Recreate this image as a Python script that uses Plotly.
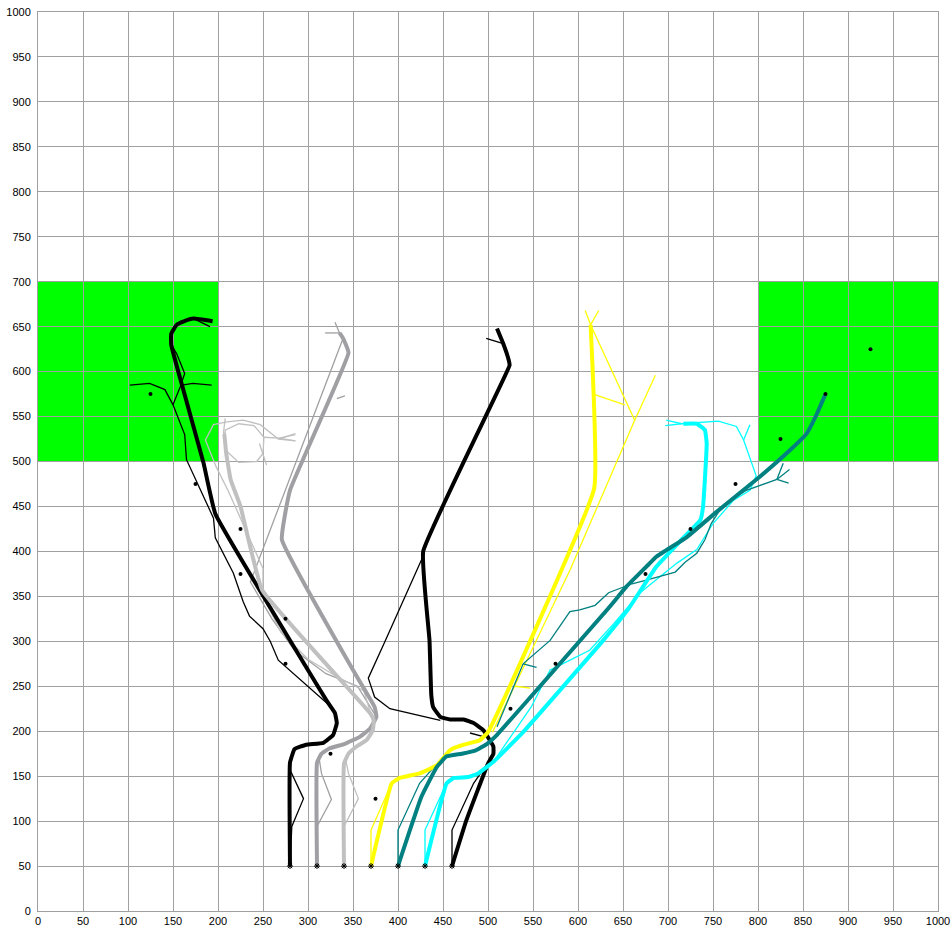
import plotly.graph_objects as go

N = None

# green target zones
zone_x0 = [0, 800]
zone_x1 = [200, 1000]
zone_y0 = [500, 500]
zone_y1 = [700, 700]

# waypoints (small black dots)
dot_x = [125, 175, 225, 225, 275, 275, 325, 375, 525, 575, 675, 725, 775, 825, 875, 925]
dot_y = [575, 475, 425, 375, 325, 275, 175, 125, 225, 275, 375, 425, 475, 525, 575, 625]

# start positions
start_x = [280, 310, 340, 370, 400, 430, 460]
start_y = [50, 50, 50, 50, 50, 50, 50]

# --- black (left) ---
blk1_x = [280, 280, 285, 298, 317, 328, 332, 330, 322, 197, 184, 160, 148, 148, 154, 162, 173, 194]
blk1_y = [50, 165, 180, 185, 187, 196, 209, 220, 232, 442, 498, 585, 630, 642, 652, 656, 659, 656]
blk1_thin_x = [280, 282, 295, 280, 280, N, 328, 267, 258, 250, 235, 228, 217, 197, 195, 165, 163, 150, 141, 124, 102,
               N, 150, 158, 163, 154, 148, N, 160, 172, 193, N, 173, 191]
blk1_thin_y = [50, 94, 125, 157, 165, N, 225, 279, 300, 314, 328, 344, 376, 415, 437, 502, 530, 563, 580, 587, 585,
               N, 563, 583, 598, 620, 630, N, 585, 587, 585, N, 659, 650]

# --- dark gray ---
dgr_x = [310, 310, 315, 324, 341, 358, 369, 376, 374, 350, 271, 280, 345, 339, 335]
dgr_y = [50, 165, 175, 181, 186, 194, 203, 216, 227, 268, 413, 468, 621, 637, 643]
dgr_thin_x = [310, 310, 326, 315, 312, N, 376, 355, 320, 285, 260, 236, 339, 335, 330, N, 335, 319, N, 332, 341]
dgr_thin_y = [50, 94, 124, 153, 172, N, 216, 250, 264, 290, 325, 366, 637, 643, 655, N, 643, 643, N, 570, 573]

# --- light gray ---
lgr_x = [340, 340, 345, 354, 365, 372, 373, 369, 249, 225, 214, 209, 207, 206]
lgr_y = [50, 164, 175, 183, 190, 201, 212, 220, 357, 450, 480, 510, 530, 531]
lgr_thin_x = [340, 340, 356, 345, 342, N, 372, 362, 330, 300, 270, 250, 250, 211, 198, 186, 195, 210, 228, 247, 267, 286,
              N, 267, 286, N, 206, 208, N, 208, 223, 243, 250, 251, 240, 223, 208, 208, N, 251, 268, 286, N, 268, 286,
              N, 246, 254]
lgr_thin_y = [50, 94, 125, 153, 168, N, 212, 245, 262, 280, 310, 350, 381, 468, 494, 524, 541, 544, 546, 541, 525, 531,
              N, 525, 523, N, 531, 548, N, 513, 499, 500, 509, 527, 540, 542, 535, 513, N, 527, 526, 530, N, 526, 523,
              N, 520, 496]

# --- yellow ---
yel_x = [370, 393, 402, 424, 443, 458, 473, 491, 500, 618, 614]
yel_y = [50, 142, 148, 153, 162, 179, 185, 190, 199, 470, 652]
yel_thin_x = [370, 370, 393, N, 505, 591, 663, 614, 608, N, 614, 623, N, 663, 686, N, 617, 652, N, 530, 547]
yel_thin_y = [50, 90, 142, N, 199, 379, 546, 652, 668, N, 652, 668, N, 546, 596, N, 575, 563, N, 250, 248]

# --- teal ---
tea_x = [400, 426, 443, 454, 471, 487, 499, 510, 634, 654, 676, 687, 721, 754, 802, 836, 854, 865, 875]
tea_y = [50, 127, 160, 172, 175, 179, 186, 196, 337, 361, 383, 394, 416, 444, 483, 513, 531, 552, 575]
tea_thin_x = [400, 400, 424, 440, N, 510, 539, 569, 591, 602, 619, 634, 660, 676, 708, 719, 732, 741, 748, 760, 787,
              821, 835, N, 821, 834, N, 821, 828, N, 539, 554]
tea_thin_y = [50, 90, 142, 160, N, 205, 275, 301, 333, 335, 340, 354, 364, 368, 377, 388, 398, 413, 431, 450, 468,
              480, 491, N, 480, 476, N, 480, 498, N, 275, 271]

# --- cyan ---
cya_x = [430, 454, 462, 478, 489, 506, 539, 628, 656, 687, 715, 736, 739, 743, 741, 732, 717]
cya_y = [50, 142, 148, 149, 153, 166, 199, 301, 336, 383, 413, 435, 450, 520, 535, 542, 542]
cya_thin_x = [430, 430, 454, N, 506, 548, 569, 613, 640, 669, 710, 732, 750, 773, 791, 798, 784, 776, 756, 715, 698,
              N, 784, 791, N, 715, 697]
cya_thin_y = [50, 90, 142, N, 166, 227, 268, 290, 320, 354, 387, 402, 431, 457, 468, 484, 524, 539, 545, 542, 546,
              N, 524, 541, N, 542, 540]

# --- black (right) ---
blk2_x = [460, 476, 500, 506, 506, 502, 495, 484, 473, 458, 447, 439, 437, 435, 428, 524, 523, 517, 510]
blk2_y = [50, 101, 164, 175, 183, 190, 201, 209, 213, 213, 216, 227, 240, 301, 400, 607, 613, 631, 648]
blk2_thin_x = [460, 460, 484, 500, N, 495, 480, N, 447, 391, 374, 367, 386, 429, N, 517, 498]
blk2_thin_y = [50, 90, 142, 165, N, 194, 198, N, 212, 225, 238, 259, 301, 397, N, 631, 637]

fig = go.Figure()

for i in range(len(zone_x0)):
    fig.add_shape(type="rect", x0=zone_x0[i], x1=zone_x1[i], y0=zone_y0[i], y1=zone_y1[i],
                  fillcolor="#00ff00", line=dict(width=0), layer="below")

thin = [(blk1_thin_x, blk1_thin_y, "#000000"), (dgr_thin_x, dgr_thin_y, "#a0a0a4"),
        (lgr_thin_x, lgr_thin_y, "#c0c0c0"), (blk2_thin_x, blk2_thin_y, "#000000"),
        (yel_thin_x, yel_thin_y, "#ffff00"), (cya_thin_x, cya_thin_y, "#00ffff"),
        (tea_thin_x, tea_thin_y, "#008080")]
for xs, ys, c in thin:
    fig.add_trace(go.Scatter(x=xs, y=ys, mode="lines", line=dict(color=c, width=1.3),
                             connectgaps=False, hoverinfo="skip"))

thick = [(blk1_x, blk1_y, "#000000"), (dgr_x, dgr_y, "#a0a0a4"), (lgr_x, lgr_y, "#c0c0c0"),
         (blk2_x, blk2_y, "#000000"), (yel_x, yel_y, "#ffff00"), (cya_x, cya_y, "#00ffff"),
         (tea_x, tea_y, "#008080")]
for xs, ys, c in thick:
    fig.add_trace(go.Scatter(x=xs, y=ys, mode="lines", line=dict(color=c, width=4, shape="spline", smoothing=0.3)))

fig.add_trace(go.Scatter(x=dot_x, y=dot_y, mode="markers", marker=dict(color="black", size=4)))
fig.add_trace(go.Scatter(x=start_x, y=start_y, mode="markers",
                         marker=dict(symbol="asterisk-open", color="black", size=5, line=dict(width=1, color="black"))))

axis = dict(range=[0, 1000], dtick=50, tick0=0, showgrid=True, gridcolor="#a0a0a0", gridwidth=1,
            zeroline=True, zerolinecolor="#a0a0a0", zerolinewidth=1, showline=True, mirror=True,
            linecolor="#a0a0a0", linewidth=1, ticks="", fixedrange=True, automargin=False,
            ticklabeloverflow="allow",
            tickfont=dict(family="Liberation Sans", size=11, color="black"))

fig.update_layout(width=952, height=933, showlegend=False,
                  margin=dict(l=38, r=14, t=12, b=22),
                  plot_bgcolor="white", paper_bgcolor="white",
                  xaxis=axis, yaxis=dict(axis, ticklabelstandoff=4))

# drop the default page margin so the chart sits at the window's corner
fig.write_html("out.html", config={"displayModeBar": False},
               post_script="document.body.style.margin='0';")
